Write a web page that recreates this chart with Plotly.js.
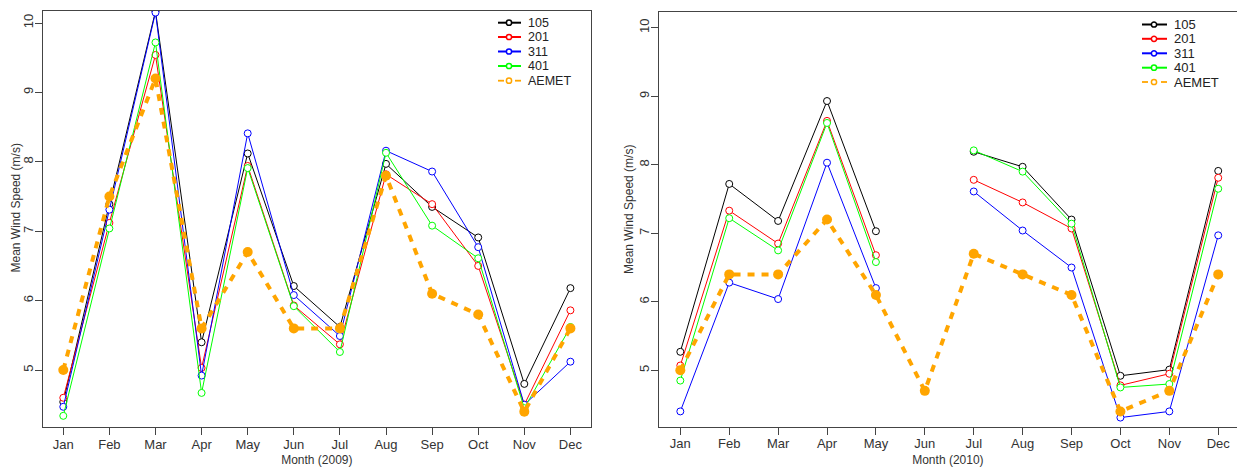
<!DOCTYPE html>
<html>
<head>
<meta charset="utf-8">
<script src="https://cdn.plot.ly/plotly-3.0.1.min.js"></script>
<style>html,body{margin:0;padding:0;background:#fff;}#chart{width:1237px;height:470px;}</style>
</head>
<body>
<div id="chart"></div>
<script>
const months = ["Jan","Feb","Mar","Apr","May","Jun","Jul","Aug","Sep","Oct","Nov","Dec"];
const monthIdx = [1,2,3,4,5,6,7,8,9,10,11,12];
const seriesNames = ["105","201","311","401","AEMET"];

// 2009
const s105_2009 = [4.54,7.39,10.17,5.40,8.12,6.21,5.62,7.97,7.35,6.91,4.80,6.18];
const s201_2009 = [4.60,7.12,9.54,5.03,7.94,5.93,5.37,7.82,7.39,6.50,4.50,5.86];
const s311_2009 = [4.47,7.31,10.15,4.92,8.41,6.08,5.49,8.16,7.86,6.77,4.50,5.12];
const s401_2009 = [4.34,7.04,9.72,4.67,7.91,5.92,5.26,8.13,7.08,6.61,4.45,5.62];
const aemet_2009 = [5.0,7.5,9.2,5.6,6.7,5.6,5.6,7.8,6.1,5.8,4.4,5.6];

// 2010
const s105_2010 = [5.27,7.72,7.18,8.93,7.03,null,8.19,7.97,7.20,4.92,5.01,7.91];
const s201_2010 = [5.07,7.33,6.85,8.64,6.68,null,7.78,7.45,7.07,4.78,4.95,7.81];
const s311_2010 = [4.40,6.28,6.04,8.03,6.20,null,7.61,7.04,6.50,4.31,4.40,6.97];
const s401_2010 = [4.85,7.22,6.75,8.61,6.58,null,8.21,7.90,7.14,4.75,4.80,7.65];
const aemet_2010 = [5.0,6.4,6.4,7.2,6.1,4.7,6.7,6.4,6.1,4.4,4.7,6.4];

const yTicks = [5,6,7,8,9,10];
const colors = ["#000000","#FF0000","#0000FF","#00FF00","#FFA500"];

const W = 1237, H = 470;
const px = v => v / W;
const py = v => 1 - v / H;

function stationTrace(name, y, color, xa, ya) {
  return {
    x: monthIdx, y: y, name: name, type: "scatter", mode: "lines+markers",
    xaxis: xa, yaxis: ya, connectgaps: false, showlegend: false,
    line: {color: color, width: 1},
    marker: {symbol: "circle", size: 7, color: "#ffffff", line: {color: color, width: 1}}
  };
}
function aemetTrace(y, xa, ya) {
  return {
    x: monthIdx, y: y, name: "AEMET", type: "scatter", mode: "lines+markers",
    xaxis: xa, yaxis: ya, showlegend: false,
    line: {color: colors[4], width: 4, dash: "7px,7px"},
    marker: {symbol: "circle", size: 10, color: colors[4]}
  };
}

const data = [
  stationTrace(seriesNames[0], s105_2009, colors[0], "x", "y"),
  stationTrace(seriesNames[1], s201_2009, colors[1], "x", "y"),
  stationTrace(seriesNames[2], s311_2009, colors[2], "x", "y"),
  stationTrace(seriesNames[3], s401_2009, colors[3], "x", "y"),
  aemetTrace(aemet_2009, "x", "y"),
  stationTrace(seriesNames[0], s105_2010, colors[0], "x2", "y2"),
  stationTrace(seriesNames[1], s201_2010, colors[1], "x2", "y2"),
  stationTrace(seriesNames[2], s311_2010, colors[2], "x2", "y2"),
  stationTrace(seriesNames[3], s401_2010, colors[3], "x2", "y2"),
  aemetTrace(aemet_2010, "x2", "y2")
];

const axisLine = "#444444";
const textCol = "#333333";

function xAxis(domain, range, title, anchor) {
  return {
    domain: domain, range: range, anchor: anchor,
    tickmode: "array", tickvals: monthIdx, ticktext: months,
    ticks: "outside", ticklen: 7, tickcolor: axisLine, tickwidth: 1,
    ticklabelstandoff: -2,
    showline: true, mirror: true, linecolor: axisLine, linewidth: 1,
    showgrid: false, zeroline: false,
    tickfont: {size: 13, color: textCol},
    title: {text: title, font: {size: 12, color: textCol}, standoff: 5}
  };
}
function yAxis(domain, range, anchor) {
  return {
    domain: domain, range: range, anchor: anchor,
    tickmode: "array", tickvals: yTicks, ticktext: yTicks.map(String),
    tickangle: -90,
    ticks: "outside", ticklen: 7, tickcolor: axisLine, tickwidth: 1,
    ticklabelstandoff: -3,
    showline: true, mirror: true, linecolor: axisLine, linewidth: 1,
    showgrid: false, zeroline: false,
    tickfont: {size: 13, color: textCol}
  };
}

// manual legends (R-style compact legend)
const shapes = [];
const annotations = [];
function addLegend(x0, x1, xc, xt, rows, fontSize) {
  seriesNames.forEach((nm, i) => {
    const yy = rows[i];
    const isA = nm === "AEMET";
    if (isA) {
      shapes.push({type: "line", xref: "paper", yref: "paper",
        x0: px(x0), x1: px(x0 + 6), y0: py(yy), y1: py(yy),
        line: {color: colors[i], width: 1.8}});
      shapes.push({type: "line", xref: "paper", yref: "paper",
        x0: px(x1 - 6), x1: px(x1), y0: py(yy), y1: py(yy),
        line: {color: colors[i], width: 1.8}});
    } else {
      shapes.push({type: "line", xref: "paper", yref: "paper",
        x0: px(x0), x1: px(x1), y0: py(yy), y1: py(yy),
        line: {color: colors[i], width: 2}});
    }
    shapes.push({type: "circle", xref: "paper", yref: "paper",
      x0: px(xc - 2.6), x1: px(xc + 2.6), y0: py(yy + 2.6), y1: py(yy - 2.6),
      fillcolor: "#ffffff", line: {color: colors[i], width: 1.5}});
    annotations.push({xref: "paper", yref: "paper", x: px(xt), y: py(yy),
      xanchor: "left", yanchor: "middle", showarrow: false, text: nm,
      font: {size: fontSize, color: "#222222"}});
  });
}
addLegend(498, 521, 509, 526, [22.7, 37, 51.5, 66, 80.7], 12.5);
addLegend(1142, 1167, 1154, 1172, [24.5, 38.8, 53.3, 67.7, 82], 13);

// y-axis titles
annotations.push({xref: "paper", yref: "paper", x: px(15.5), y: py(208), textangle: -90,
  xanchor: "center", yanchor: "middle", showarrow: false, text: "Mean Wind Speed (m/s)",
  font: {size: 12, color: textCol}});
annotations.push({xref: "paper", yref: "paper", x: px(629), y: py(210), textangle: -90,
  xanchor: "center", yanchor: "middle", showarrow: false, text: "Mean Wind Speed (m/s)",
  font: {size: 12, color: textCol}});

const layout = {
  width: W, height: H,
  margin: {l: 0, r: 0, t: 0, b: 0, pad: 0},
  paper_bgcolor: "#ffffff", plot_bgcolor: "#ffffff",
  font: {family: "Liberation Sans, Arial, sans-serif", color: textCol, size: 13},
  showlegend: false,
  xaxis: xAxis([43/W, 590.7/W], [0.56, 12.44], "Month (2009)", "y"),
  yaxis: yAxis([43/H, 459/H], [4.179, 10.173], "x"),
  xaxis2: xAxis([658.8/W, 1], [0.56, 12.384], "Month (2010)", "y2"),
  yaxis2: yAxis([43.3/H, 457.7/H], [4.177, 10.225], "x2"),
  shapes: shapes,
  annotations: annotations
};

Plotly.newPlot("chart", data, layout, {displayModeBar: false, staticPlot: true});
</script>
</body>
</html>
